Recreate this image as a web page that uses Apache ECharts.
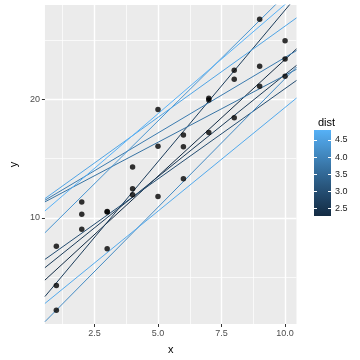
<!DOCTYPE html>
<html><head><meta charset="utf-8">
<script src="https://cdn.jsdelivr.net/npm/echarts@6/dist/echarts.min.js"></script>
<style>html,body{margin:0;padding:0;background:#fff}#c{width:360px;height:360px}</style>
</head><body><div id="c"></div>
<script>
// ---- data ----
const pointX = [1,1,1, 2,2,2, 3,3,3, 4,4,4, 5,5,5, 6,6,6, 7,7,7, 8,8,8, 9,9,9, 10,10,10];
const pointY = [7.6,4.3,2.2, 11.35,10.3,9.05, 10.55,10.5,7.4, 14.3,12.45,11.95, 19.15,16.05,11.8,
                17.0,16.0,13.3, 20.1,19.95,17.2, 22.45,21.7,18.45, 26.75,22.8,21.1, 24.95,23.4,21.95];
const lineIntercept = [3.67, 4.85, 1.96, 5.66, 10.73, 10.79, 0.05, 7.58, 10.78, 1.82, 9.57];
const lineSlope     = [1.97, 1.724, 2.557, 1.525, 1.13, 1.275, 2.17, 2.12, 1.54, 1.75, 1.844];
const lineDist      = [2.28, 2.6, 2.64, 2.98, 3.69, 3.85, 4.12, 4.3, 4.56, 4.65, 4.79];
const xTicks = [2.5, 5, 7.5, 10];
const xMinor = [1.25, 3.75, 6.25, 8.75];
const yTicks = [10, 20];
const yMinor = [5, 15, 25];
const distTicks = [2.5, 3, 3.5, 4, 4.5];

// ---- colour scale (ggplot default, Lab interpolation) ----
const LOW = '#132B43', HIGH = '#56B1F7';
function hex2rgb(h){return [1,3,5].map(i=>parseInt(h.substr(i,2),16)/255);}
function lin(c){return c<=0.04045?c/12.92:Math.pow((c+0.055)/1.055,2.4);}
function delin(c){return c<=0.0031308?12.92*c:1.055*Math.pow(c,1/2.4)-0.055;}
const Wn=[0.95047,1,1.08883];
function f(t){return t>0.008856?Math.cbrt(t):7.787*t+16/116;}
function finv(t){return t*t*t>0.008856?t*t*t:(t-16/116)/7.787;}
function rgb2lab(rgb){const [r,g,b]=rgb.map(lin);
  const X=(0.4124*r+0.3576*g+0.1805*b)/Wn[0],Y=(0.2126*r+0.7152*g+0.0722*b)/Wn[1],Z=(0.0193*r+0.1192*g+0.9505*b)/Wn[2];
  return [116*f(Y)-16,500*(f(X)-f(Y)),200*(f(Y)-f(Z))];}
function lab2hex(L){const fy=(L[0]+16)/116,fx=fy+L[1]/500,fz=fy-L[2]/200;
  const X=finv(fx)*Wn[0],Y=finv(fy)*Wn[1],Z=finv(fz)*Wn[2];
  const r=3.2406*X-1.5372*Y-0.4986*Z,g=-0.9689*X+1.8758*Y+0.0415*Z,b=0.0557*X-0.2040*Y+1.0570*Z;
  return '#'+[r,g,b].map(c=>{let v=Math.round(Math.max(0,Math.min(1,delin(c)))*255);return v.toString(16).padStart(2,'0');}).join('');}
const labLo=rgb2lab(hex2rgb(LOW)), labHi=rgb2lab(hex2rgb(HIGH));
function colorAt(t){return lab2hex(labLo.map((v,i)=>v+(labHi[i]-v)*t));}
const dMin=Math.min(...lineDist), dMax=Math.max(...lineDist);
function distColor(d){return colorAt((d-dMin)/(dMax-dMin));}

// ---- axes limits ----
const xMin=0.55, xMax=10.45, yMin=1.05, yMax=27.96;
const FONT='Liberation Sans, Arial, sans-serif';

const series=[];
lineIntercept.forEach((a,i)=>{
  const b=lineSlope[i], col=distColor(lineDist[i]);
  series.push({type:'line',xAxisIndex:0,yAxisIndex:0,data:[[xMin,a+b*xMin],[xMax,a+b*xMax]],
    symbol:'none',clip:true,silent:true,color:col,lineStyle:{width:1,color:col},z:3});
});
series.push({type:'scatter',xAxisIndex:0,yAxisIndex:0,data:pointX.map((x,i)=>[x,pointY[i]]),
  symbolSize:5.5,itemStyle:{color:'#000'},silent:true,z:10});
// colourbar
const stops=[];for(let k=0;k<=20;k++){stops.push({offset:k/20,color:colorAt(k/20)});}
series.push({type:'bar',xAxisIndex:2,yAxisIndex:2,stack:'cb',data:[dMin],barWidth:'100%',
  itemStyle:{color:'rgba(0,0,0,0)'},silent:true});
series.push({type:'bar',xAxisIndex:2,yAxisIndex:2,stack:'cb',data:[dMax-dMin],barWidth:'100%',
  itemStyle:{color:new echarts.graphic.LinearGradient(0,1,0,0,stops)},silent:true});

const chart=echarts.init(document.getElementById('c'),null,{renderer:'canvas'});
chart.setOption({
  animation:false,
  backgroundColor:'#fff',
  title:{text:'dist',left:313,top:112,textStyle:{fontSize:11,fontWeight:'normal',color:'#000',fontFamily:FONT}},
  grid:[
    {left:36.5,right:63.5,top:5,bottom:34,show:true,backgroundColor:'#EBEBEB',borderWidth:0},
    {left:314,top:130,width:17,height:86,show:false}
  ],
  xAxis:[
    {type:'value',gridIndex:0,min:xMin,max:xMax,name:'x',nameLocation:'middle',nameGap:20,
     nameTextStyle:{fontSize:11,color:'#000',fontFamily:FONT},
     axisLine:{show:false},
     axisTick:{show:true,length:3,customValues:xTicks,lineStyle:{color:'#333',width:1}},
     axisLabel:{customValues:xTicks,formatter:v=>Number(v).toFixed(1),color:'#4D4D4D',fontSize:9,margin:5,fontFamily:FONT},
     splitLine:{show:true,lineStyle:{color:'#fff',width:1.4}},z:1},
    {type:'value',gridIndex:0,min:xMin,max:xMax,position:'bottom',
     axisLine:{show:false},axisTick:{show:false,customValues:xMinor},axisLabel:{show:false},
     splitLine:{show:true,lineStyle:{color:'#fff',width:0.7}},z:0},
    {type:'category',gridIndex:1,data:[''],show:false,boundaryGap:true}
  ],
  yAxis:[
    {type:'value',gridIndex:0,min:yMin,max:yMax,name:'y',nameLocation:'middle',nameGap:20,nameRotate:90,
     nameTextStyle:{fontSize:11,color:'#000',fontFamily:FONT},
     axisLine:{show:false},
     axisTick:{show:true,length:3,customValues:yTicks,lineStyle:{color:'#333',width:1}},
     axisLabel:{customValues:yTicks,color:'#4D4D4D',fontSize:9,margin:5,fontFamily:FONT},
     splitLine:{show:true,lineStyle:{color:'#fff',width:1.4}},z:1},
    {type:'value',gridIndex:0,min:yMin,max:yMax,position:'left',
     axisLine:{show:false},axisTick:{show:false,customValues:yMinor},axisLabel:{show:false},
     splitLine:{show:true,lineStyle:{color:'#fff',width:0.7}},z:0},
    {type:'value',gridIndex:1,min:dMin,max:dMax,position:'left',
     axisLine:{show:false},axisTick:{show:true,inside:true,length:3,customValues:distTicks,lineStyle:{color:'#fff',width:1}},
     axisLabel:{show:false,customValues:distTicks},splitLine:{show:false},z:20},
    {type:'value',gridIndex:1,min:dMin,max:dMax,position:'right',
     axisLine:{show:false},axisTick:{show:true,inside:true,length:3,customValues:distTicks,lineStyle:{color:'#fff',width:1}},
     axisLabel:{show:true,customValues:distTicks,formatter:v=>Number(v).toFixed(1),color:'#1a1a1a',fontSize:9,margin:4,fontFamily:FONT},
     splitLine:{show:false},z:20}
  ],
  series:series
});
</script></body></html>
